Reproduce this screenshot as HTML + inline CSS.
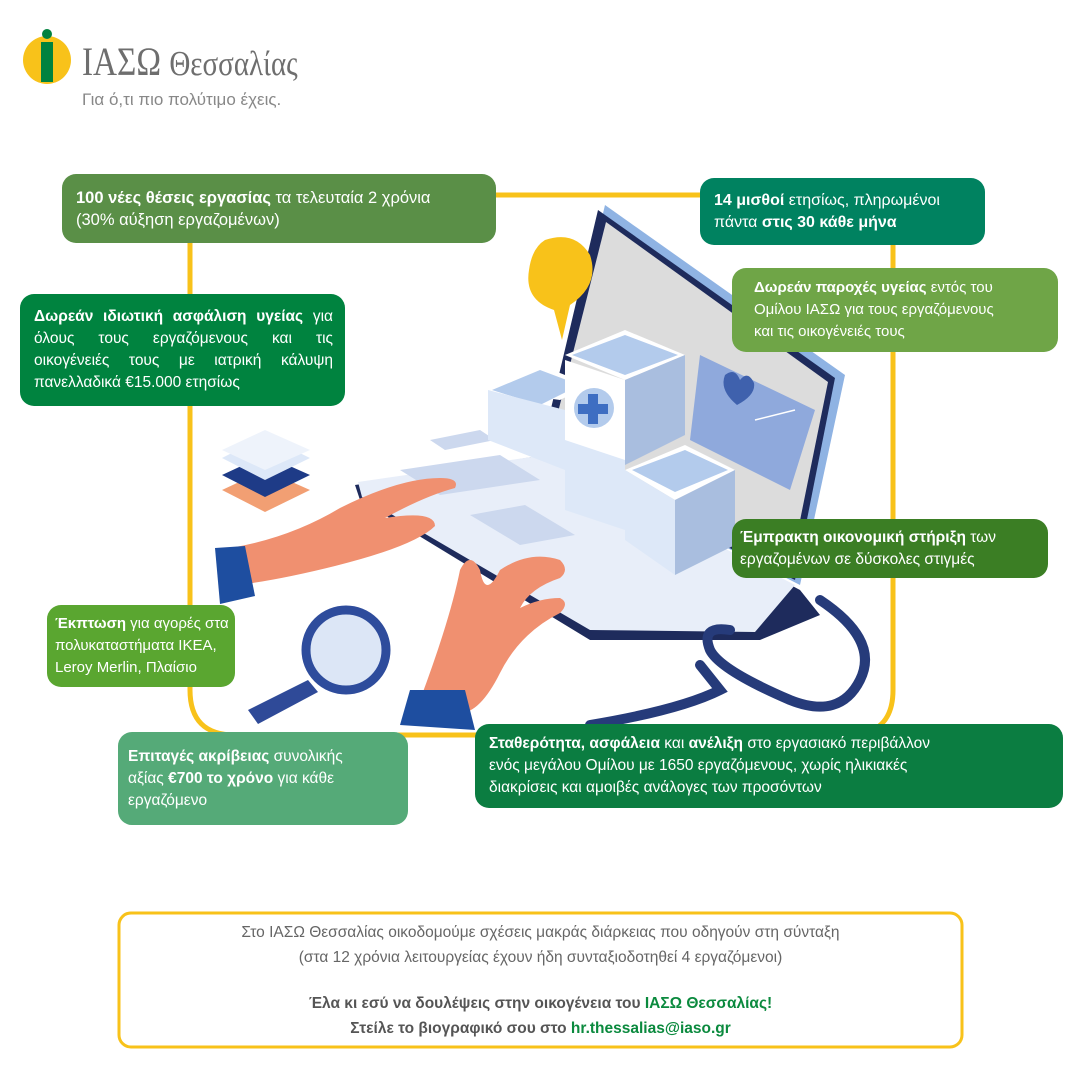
<!DOCTYPE html>
<html><head><meta charset="utf-8">
<style>
*{margin:0;padding:0;box-sizing:border-box}
body{width:1080px;height:1080px;background:#fff;position:relative;overflow:hidden;font-family:"Liberation Sans","DejaVu Sans",sans-serif}
.b{position:absolute;color:#fff;border-radius:14px;font-size:15.5px;line-height:22px;padding:0 0 0 14px;display:flex;flex-direction:column;justify-content:center}
.b b{font-weight:bold}
.abs{position:absolute}
</style></head><body>
<svg class="abs" style="left:0;top:0" width="1080" height="1080">
<path d="M496 195 H893 V690 Q893 735 848 735 H235 Q190 735 190 690 V243" fill="none" stroke="#f8c21a" stroke-width="5"/>
<polygon points="605,205 845,375 800,585 545,455" fill="#8fb3e3"/>
<polygon points="598,210 835,378 795,580 540,455" fill="#1e2b5c"/>
<polygon points="606,222 828,382 790,570 548,452" fill="#dcdcdc"/>
<polygon points="355,485 545,455 800,590 820,615 760,640 590,640 360,500" fill="#1e2b5c"/>
<polygon points="358,482 545,455 795,585 755,632 590,630 362,497" fill="#e8eef9"/>
<g fill="#ccd8ee">
<polygon points="470,515 525,505 575,535 520,545"/>
<polygon points="400,470 500,455 540,480 440,495"/>
<polygon points="430,440 480,430 495,440 445,450"/>
</g>
<polygon points="700,355 815,410 790,490 690,440" fill="#8fa9dc"/>
<path d="M725 375 q10 -8 15 5 q8 -10 14 3 q2 12 -17 22 q-18 -15 -12 -30z" fill="#3f61ad"/>
<line x1="755" y1="420" x2="795" y2="410" stroke="#fff" stroke-width="1.5"/>
<polygon points="488,390 540,365 590,385 560,400" fill="#fff"/>
<polygon points="492,390 540,370 580,385 540,405" fill="#b3cbec"/>
<polygon points="488,390 565,410 565,470 488,440" fill="#dde8f8"/>
<polygon points="565,355 625,330 685,355 625,380" fill="#fff"/>
<polygon points="572,355 625,335 678,355 625,375" fill="#b3cbec"/>
<polygon points="625,380 685,355 685,435 625,465" fill="#a9bedf"/>
<polygon points="565,360 625,380 625,470 565,460" fill="#fff"/>
<circle cx="594" cy="408" r="20" fill="#b3cbec"/>
<path d="M588 394h10v10h10v10h-10v10h-10v-10h-10v-10h10z" fill="#3e6ec2"/>
<polygon points="565,440 625,460 625,530 565,510" fill="#dde8f8"/>
<polygon points="625,470 685,445 735,470 675,500" fill="#fff"/>
<polygon points="632,470 685,450 728,470 675,492" fill="#b3cbec"/>
<polygon points="625,470 675,500 675,575 625,540" fill="#dde8f8"/>
<polygon points="675,500 735,470 735,545 675,575" fill="#a9bedf"/>
<path d="M545 240 q30 -10 45 15 q10 30 -20 50 l-8 35 l-8 -30 q-30 -10 -25 -40 q3 -22 16 -30z" fill="#f8c21a"/>
<polygon points="222,490 265,470 310,490 265,512" fill="#f29f73"/>
<polygon points="222,475 265,455 310,475 265,497" fill="#1e3b87"/>
<polygon points="222,458 265,436 310,458 265,480" fill="#dde8f8"/>
<polygon points="222,450 265,430 310,450 265,470" fill="#eef3fb"/>
<path d="M230 548 q60 -10 110 -40 q60 -30 100 -30 q20 0 15 10 q-30 8 -70 30 q50 -8 50 8 q-20 20 -100 40 q-60 15 -105 20z" fill="#f09070"/>
<path d="M215 548 l30 -2 l10 50 l-35 8z" fill="#1e4ea0"/>
<path d="M420 700 q30 -80 40 -130 q10 -20 20 0 q5 30 20 0 q30 -20 60 -10 q10 10 0 18 q-30 10 -40 30 q20 -10 40 -10 q10 5 0 15 q-40 20 -60 60 q-20 40 -40 40z" fill="#f09070"/>
<path d="M410 690 l55 0 l10 40 l-75 -5z" fill="#1e4ea0"/>
<circle cx="346" cy="650" r="40" fill="#dce6f6" stroke="#2e4c9c" stroke-width="9"/>
<path d="M308 680 l-60 30 l10 14 l60 -32z" fill="#2f4a98"/>
<path d="M820 600 q60 40 40 80 q-20 40 -70 20 q-70 -30 -80 -50 q-10 -25 20 -20" fill="none" stroke="#263b7a" stroke-width="10" stroke-linecap="round"/>
<path d="M700 665 l20 25 q-40 20 -130 35" fill="none" stroke="#263b7a" stroke-width="10" stroke-linecap="round"/>
<rect x="119" y="913" width="843" height="134" rx="12" fill="none" stroke="#f8c21a" stroke-width="3"/>
<circle cx="47" cy="60" r="24" fill="#f8c21a"/>
<rect x="41" y="42" width="12" height="40" fill="#00823f"/>
<circle cx="47" cy="34" r="5" fill="#00823f"/>
</svg>
<div class="abs" style="left:82px;top:38px;font-family:'Liberation Serif',serif;font-size:40px;color:#6e6e6e;transform:scaleX(0.83);transform-origin:left;white-space:nowrap">ΙΑΣΩ <span style="font-size:35px">Θεσσαλίας</span></div>
<div class="abs" style="left:82px;top:90px;font-size:17px;color:#888;white-space:nowrap">Για ό,τι πιο πολύτιμο έχεις.</div>

<div class="b" style="left:62px;top:174px;width:434px;height:69px;background:#5a8f47;font-size:16.5px"><div><b>100 νέες θέσεις εργασίας</b> τα τελευταία 2 χρόνια<br>(30% αύξηση εργαζομένων)</div></div>
<div class="b" style="left:20px;top:294px;width:325px;height:112px;background:#00833f;padding-right:12px;text-align:justify"><div><b>Δωρεάν ιδιωτική ασφάλιση υγείας</b> για όλους τους εργαζόμενους και τις οικογένειές τους με ιατρική κάλυψη πανελλαδικά €15.000 ετησίως</div></div>
<div class="b" style="left:700px;top:178px;width:285px;height:67px;background:#008260;font-size:16px"><div><b>14 μισθοί</b> ετησίως, πληρωμένοι<br>πάντα <b>στις 30 κάθε μήνα</b></div></div>
<div class="b" style="left:732px;top:268px;width:326px;height:84px;background:#6fa547;padding-left:22px;font-size:15px"><div><b>Δωρεάν παροχές υγείας</b> εντός του<br>Ομίλου ΙΑΣΩ για τους εργαζόμενους<br>και τις οικογένειές τους</div></div>
<div class="b" style="left:732px;top:519px;width:316px;height:59px;background:#3b7e24;padding-left:8px;font-size:15.5px"><div><b>Έμπρακτη οικονομική στήριξη</b> των<br>εργαζομένων σε δύσκολες στιγμές</div></div>
<div class="b" style="left:47px;top:605px;width:188px;height:82px;background:#5aa630;padding-left:8px;font-size:15px"><div><b>Έκπτωση</b> για αγορές στα<br>πολυκαταστήματα ΙΚΕΑ,<br>Leroy Merlin, Πλαίσιο</div></div>
<div class="b" style="left:118px;top:732px;width:290px;height:93px;background:#55aa78;padding-left:10px;font-size:15.5px"><div><b>Επιταγές ακρίβειας</b> συνολικής<br>αξίας <b>€700 το χρόνο</b> για κάθε<br>εργαζόμενο</div></div>
<div class="b" style="left:475px;top:724px;width:588px;height:84px;background:#0b7d41;font-size:15.5px"><div><b>Σταθερότητα, ασφάλεια</b> και <b>ανέλιξη</b> στο εργασιακό περιβάλλον<br>ενός μεγάλου Ομίλου με 1650 εργαζόμενους, χωρίς ηλικιακές<br>διακρίσεις και αμοιβές ανάλογες των προσόντων</div></div>

<div class="abs" style="left:119px;top:920px;width:843px;text-align:center;color:#666;font-size:15.5px;line-height:25px">
<div>Στο ΙΑΣΩ Θεσσαλίας οικοδομούμε σχέσεις μακράς διάρκειας που οδηγούν στη σύνταξη</div>
<div>(στα 12 χρόνια λειτουργείας έχουν ήδη συνταξιοδοτηθεί 4 εργαζόμενοι)</div>
<div style="height:21px"></div>
<div style="font-weight:bold;color:#555">Έλα κι εσύ να δουλέψεις στην οικογένεια του <span style="color:#0b8a3e">ΙΑΣΩ Θεσσαλίας!</span></div>
<div style="font-weight:bold;color:#555">Στείλε το βιογραφικό σου στο <span style="color:#0b8a3e">hr.thessalias@iaso.gr</span></div>
</div>
</body></html>
